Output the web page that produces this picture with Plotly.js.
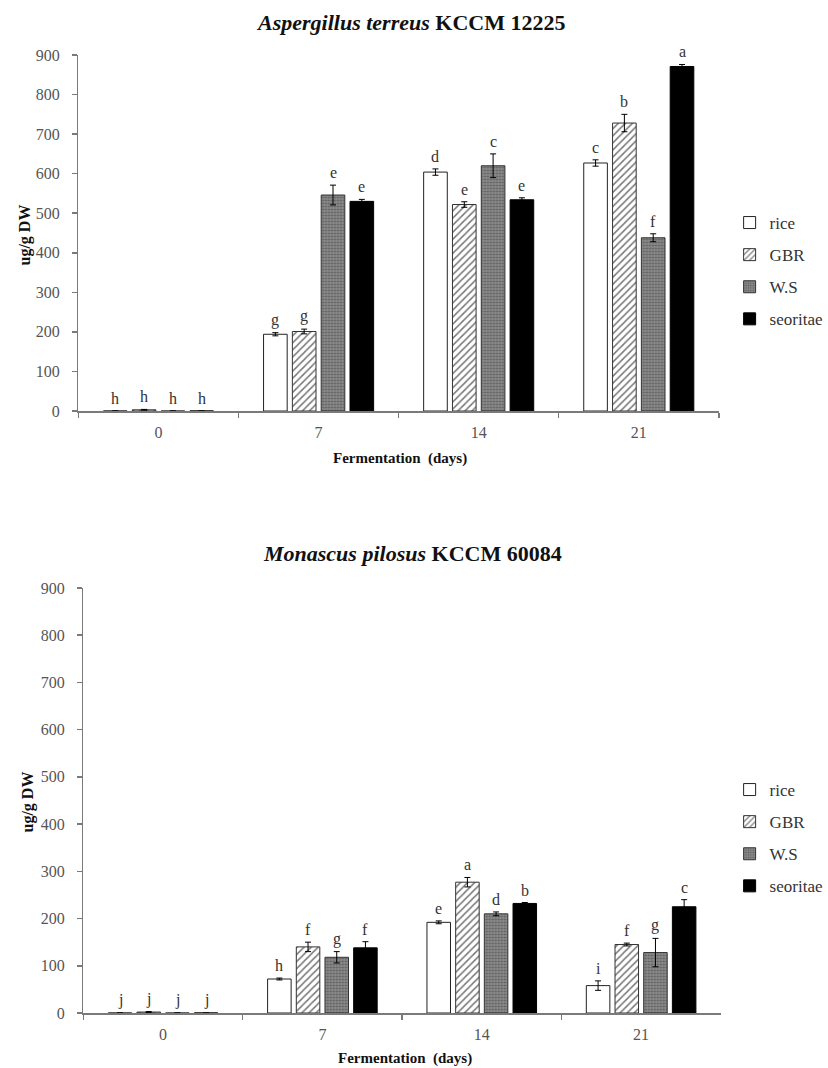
<!DOCTYPE html>
<html>
<head>
<meta charset="utf-8">
<script src="https://cdn.plot.ly/plotly-3.0.1.min.js"></script>
<style>html,body{margin:0;padding:0;background:#fff;}#chart{width:828px;height:1068px;}</style>
</head>
<body>
<div id="chart"></div>
<script>
// ---------- data ----------
var days = ['0', '7', '14', '21'];
var seriesNames = ['rice', 'GBR', 'W.S', 'seoritae'];

// Aspergillus terreus KCCM 12225
var atRice = [0, 194, 604, 627];
var atRiceErr = [0, 4, 8, 8];
var atGBR = [3, 201, 522, 728];
var atGBRErr = [1, 6, 7, 22];
var atWS = [0, 546, 620, 438];
var atWSErr = [0, 25, 30, 10];
var atSeoritae = [0, 530, 534, 871];
var atSeoritaeErr = [0, 5, 5, 5];
var atLetters = [
  ['h', 'g', 'd', 'c'],
  ['h', 'g', 'e', 'b'],
  ['h', 'e', 'c', 'f'],
  ['h', 'e', 'e', 'a']
];

// Monascus pilosus KCCM 60084
var mpRice = [0, 72, 192, 58];
var mpRiceErr = [0, 2, 3, 10];
var mpGBR = [2, 140, 277, 145];
var mpGBRErr = [1, 10, 10, 3];
var mpWS = [0, 118, 210, 128];
var mpWSErr = [0, 12, 4, 30];
var mpSeoritae = [0, 138, 232, 225];
var mpSeoritaeErr = [0, 13, 2, 15];
var mpLetters = [
  ['j', 'h', 'e', 'i'],
  ['j', 'f', 'a', 'f'],
  ['j', 'g', 'd', 'g'],
  ['j', 'f', 'b', 'c']
];

var yTicks = [0, 100, 200, 300, 400, 500, 600, 700, 800, 900];

// ---------- styles ----------
var FONT = 'Liberation Serif';
var BARGAP = 0.28, GROUPGAP = 0.18;
var markerStyles = [
  {color: '#ffffff', line: {color: '#222', width: 1}},
  {color: '#ffffff', line: {color: '#333', width: 1},
   pattern: {shape: '/', fgcolor: '#777', bgcolor: '#ffffff', size: 5, solidity: 0.3}},
  {color: '#858585', line: {color: '#333', width: 1},
   pattern: {shape: '.', fgcolor: '#5a5a5a', bgcolor: '#8c8c8c', size: 3, solidity: 0.35}},
  {color: '#000000', line: {color: '#000', width: 1}}
];

var topVals = [atRice, atGBR, atWS, atSeoritae];
var topErrs = [atRiceErr, atGBRErr, atWSErr, atSeoritaeErr];
var botVals = [mpRice, mpGBR, mpWS, mpSeoritae];
var botErrs = [mpRiceErr, mpGBRErr, mpWSErr, mpSeoritaeErr];

var traces = [];
function addTraces(vals, errs, xa, ya, legendName, prefix) {
  for (var k = 0; k < 4; k++) {
    traces.push({
      type: 'bar', x: days, y: vals[k], name: seriesNames[k],
      xaxis: xa, yaxis: ya, legend: legendName, legendgroup: prefix + k,
      marker: markerStyles[k],
      error_y: {type: 'data', array: errs[k].map(function (e) { return e > 0 ? e : null; }),
        visible: true, color: '#000', thickness: 1, width: 3}
    });
  }
}
addTraces(topVals, topErrs, 'x', 'y', 'legend', 't');
addTraces(botVals, botErrs, 'x2', 'y2', 'legend2', 'b');

var annotations = [];
var slot = (1 - BARGAP) / 4;
function addLetters(vals, errs, letters, xa, ya) {
  for (var k = 0; k < 4; k++) {
    for (var i = 0; i < days.length; i++) {
      annotations.push({
        xref: xa, yref: ya,
        x: i - (1 - BARGAP) / 2 + slot * (k + 0.5),
        y: vals[k][i] + errs[k][i],
        text: letters[k][i], showarrow: false,
        yanchor: 'bottom', yshift: 2,
        font: {family: FONT, size: 16, color: '#333'}
      });
    }
  }
}
addLetters(topVals, topErrs, atLetters, 'x', 'y');
addLetters(botVals, botErrs, mpLetters, 'x2', 'y2');

function txt(text, x, y, size, angle) {
  annotations.push({xref: 'paper', yref: 'paper', x: x, y: y, text: text, showarrow: false,
    xanchor: 'center', yanchor: 'middle', textangle: angle || 0,
    font: {family: FONT, size: size, color: '#111'}});
}
txt('<b><i>Aspergillus terreus</i> KCCM 12225</b>', 0.506, 0.979, 22);
txt('<b><i>Monascus pilosus</i> KCCM 60084</b>', 0.508, 0.482, 22);
txt('<b>ug/g DW</b>', 25 / 828, 0.780, 16, -90);
txt('<b>ug/g DW</b>', 29 / 828, 0.249, 16, -90);
txt('<b>Fermentation\u00a0\u00a0(days)</b>', 0.493, 0.571, 15);
txt('<b>Fermentation\u00a0\u00a0(days)</b>', 0.499, 0.0085, 15);

function xAxis(domain, anchor) {
  return {domain: domain, anchor: anchor, type: 'category', range: [-0.5, 3.5],
    showline: true, linecolor: '#7a7a7a', linewidth: 1.5, ticks: 'outside', tickson: 'boundaries',
    ticklen: 5, tickcolor: '#7a7a7a', tickwidth: 1.5, ticklabelstandoff: 6,
    tickfont: {family: FONT, size: 16, color: '#555'}, showgrid: false, zeroline: false, fixedrange: true};
}
function yAxis(domain, anchor) {
  return {domain: domain, anchor: anchor, range: [0, 900], tickvals: yTicks,
    showline: true, linecolor: '#7a7a7a', linewidth: 1.5, ticks: 'outside', ticklen: 5,
    tickcolor: '#7a7a7a', tickwidth: 1.5, ticklabelstandoff: 9,
    tickfont: {family: FONT, size: 16, color: '#555'}, showgrid: false, zeroline: false, fixedrange: true};
}

function legendCfg(y) {
  return {x: 744 / 828, y: y, xanchor: 'left', yanchor: 'top', traceorder: 'grouped',
    tracegroupgap: 7, itemwidth: 30, bgcolor: 'rgba(0,0,0,0)',
    font: {family: FONT, size: 17, color: '#333'}};
}

var layout = {
  width: 828, height: 1068, margin: {l: 0, r: 0, t: 0, b: 0},
  paper_bgcolor: '#fff', plot_bgcolor: '#fff',
  font: {family: FONT},
  barmode: 'group', bargap: BARGAP, bargroupgap: GROUPGAP,
  xaxis: xAxis([80 / 828, 733 / 828], 'y'),
  yaxis: yAxis([1 - 411 / 1068, 1 - 55 / 1068], 'x'),
  xaxis2: xAxis([85 / 828, 735 / 828], 'y2'),
  yaxis2: yAxis([1 - 1013 / 1068, 1 - 588 / 1068], 'x2'),
  legend: legendCfg(1 - 205 / 1068),
  legend2: legendCfg(1 - 772 / 1068),
  annotations: annotations,
  showlegend: true
};

Plotly.newPlot('chart', traces, layout, {displayModeBar: false, staticPlot: true});
</script>
</body>
</html>
